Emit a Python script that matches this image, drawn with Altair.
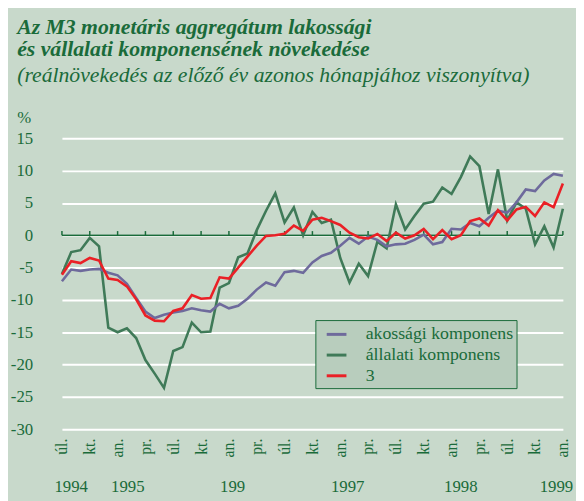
import altair as alt
import pandas as pd

FONT = "Liberation Serif"
GREEN = "#1a6b3a"
BG = "#c8d9cb"

# months: Jul 1994 (0) ... Jan 1999 (54)
months = list(range(55))

lakossagi = [-7.1, -5.3, -5.5, -5.3, -5.2, -5.8, -6.2, -7.5, -9.7, -11.8,
             -12.8, -12.3, -11.95, -11.7, -11.3, -11.6, -11.8, -10.6, -11.3, -10.9,
             -9.8, -8.4, -7.3, -7.8, -5.7, -5.5, -5.8, -4.2, -3.2, -2.7,
             -1.6, -0.4, -1.3, -0.2, -0.7, -1.7, -1.4, -1.3, -0.7, 0.1,
             -1.4, -1.05, 1.0, 0.9, 1.9, 1.4, 2.7, 3.8, 3.5, 5.1,
             7.1, 6.85, 8.5, 9.5, 9.2]

vallalati = [-6.0, -2.6, -2.3, -0.4, -1.7, -14.3, -15.0, -14.4, -15.9, -19.3,
             -21.4, -23.6, -17.9, -17.3, -13.5, -15.0, -14.9, -8.1, -7.4, -3.4,
             -2.8, 0.8, 3.8, 6.5, 2.0, 4.3, 0.0, 3.6, 1.9, 2.4,
             -3.5, -7.3, -4.4, -6.3, -1.0, -2.0, 4.8, 0.9, 3.0, 4.9,
             5.2, 7.4, 6.4, 9.0, 12.2, 10.7, 3.3, 10.2, 2.3, 5.1,
             4.1, -1.4, 1.4, -1.9, 4.1]

m3 = [-6.1, -4.0, -4.3, -3.5, -3.9, -6.7, -6.9, -7.9, -9.9, -12.4,
      -13.2, -13.3, -11.7, -11.3, -9.25, -9.8, -9.7, -6.5, -6.7, -5.0,
      -3.3, -1.6, -0.1, 0.0, 0.25, 1.5, 0.7, 2.4, 2.7, 2.2,
      1.6, 0.4, -0.3, -0.5, 0.2, -0.9, 0.4, -0.5, 0.0, 1.0,
      -0.6, 0.8, -0.6, 0.0, 2.2, 2.6, 1.5, 3.9, 2.3, 4.0,
      4.4, 3.0, 5.1, 4.35, 8.0]

series_names = ["akossági komponens", "állalati komponens", "3"]
series_colors = ["#6e6a9c", "#3f7a58", "#ea2026"]

tick_values = list(range(0, 55, 3))
tick_labels = ["úl.", "kt.", "an.", "pr."] * 4 + ["úl.", "kt.", "an."]
y_ticks = list(range(-30, 20, 5))

year_labels = ["1994", "1995", "199", "1997", "1998", "1999"]
year_pos = [1.0, 7.1, 18.4, 30.8, 43.0, 53.3]

title_line1 = "Az M3 monetáris aggregátum lakossági"
title_line2 = "és vállalati komponensének növekedése"
subtitle_line = "(reálnövekedés az előző év azonos hónapjához viszonyítva)"

rows = []
for name, vals in [(series_names[1], vallalati), (series_names[0], lakossagi),
                   (series_names[2], m3)]:
    for m, v in zip(months, vals):
        rows.append({"month": m, "value": v, "series": name})
df = pd.DataFrame(rows)

label_expr = "[" + ",".join("'" + t + "'" for t in tick_labels) + "][round(datum.value/3)]"

x_scale = alt.Scale(domain=[0, 54], nice=False, zero=False)
y_scale = alt.Scale(domain=[-30, 15], nice=False, zero=False)

x_axis = alt.Axis(values=tick_values, labelExpr=label_expr, labelAngle=270,
                  labelPadding=9, domain=False, ticks=False, grid=False,
                  labelOverlap=False, labelFlush=False, labelFont=FONT,
                  labelFontSize=16, labelColor=GREEN, title=None)
y_axis = alt.Axis(values=y_ticks, labelExpr="'' + datum.value",
                  grid=True, gridColor="white", gridWidth=2,
                  gridOpacity=1, domain=False, ticks=False, labelPadding=29.7,
                  labelOverlap=False, labelFlush=False, labelFont=FONT,
                  labelFontSize=17, labelColor=GREEN,
                  title="%", titleAngle=0, titleX=-45.7, titleY=-15.7,
                  titleAlign="left", titleBaseline="alphabetic", titleFont=FONT,
                  titleFontSize=17, titleFontWeight="normal", titleColor=GREEN)

zero_line = alt.Chart(pd.DataFrame({"value": [0]})).mark_rule(
    color=GREEN, strokeWidth=1.6).encode(
    y=alt.Y("value:Q", scale=y_scale, axis=y_axis))

zero_ticks = alt.Chart(pd.DataFrame({"month": tick_values,
                                     "value": [0] * len(tick_values),
                                     "top": [0.65] * len(tick_values)})).mark_rule(
    color=GREEN, strokeWidth=1.5).encode(
    x=alt.X("month:Q", scale=x_scale, axis=x_axis),
    y=alt.Y("value:Q", scale=y_scale, axis=y_axis),
    y2="top:Q")

lines = alt.Chart(df).mark_line(strokeWidth=2.6).encode(
    x=alt.X("month:Q", scale=x_scale, axis=x_axis),
    y=alt.Y("value:Q", scale=y_scale, axis=y_axis),
    color=alt.Color("series:N",
                    scale=alt.Scale(domain=series_names, range=series_colors),
                    legend=alt.Legend(orient="none", legendX=257, legendY=184.3,
                                      title=None, fillColor="#b8cdbd",
                                      strokeColor=GREEN, padding=3,
                                      symbolType="stroke", symbolStrokeWidth=3,
                                      symbolSize=400, symbolOffset=7,
                                      labelFont=FONT, labelFontSize=18,
                                      labelColor=GREEN, labelOffset=18,
                                      rowPadding=0, labelLimit=300)),
    detail="series:N",
)

years = alt.Chart(pd.DataFrame({"month": year_pos, "label": year_labels})).mark_text(
    font=FONT, fontSize=17, color=GREEN, baseline="alphabetic").encode(
    x=alt.X("month:Q", scale=x_scale, axis=x_axis), y=alt.value(359), text="label:N")

def title_text(txt, ypos, bold):
    return alt.Chart(pd.DataFrame({"t": [txt]})).mark_text(
        font=FONT, fontSize=22, fontStyle="italic",
        fontWeight="bold" if bold else "normal", color=GREEN,
        align="left", baseline="alphabetic").encode(
        x=alt.value(-45.4), y=alt.value(ypos), text="t:N")

t1 = title_text(title_line1, -106, True)
t2 = title_text(title_line2, -83.4, True)
t3 = title_text(subtitle_line, -56.7, False)

chart = alt.layer(zero_line, zero_ticks, lines, years, t1, t2, t3).properties(
    width=508, height=295,
    padding={"left": 54.7, "top": 128.7, "right": 13.3, "bottom": 69.3},
    autosize=alt.AutoSizeParams(type="none"),
    background=BG,
).configure_view(strokeWidth=0).configure_axis(
    labelFont=FONT, labelColor=GREEN, titleFont=FONT, titleColor=GREEN,
    labelOverlap=False,
).configure_legend(labelFont=FONT, labelColor=GREEN)

chart.save("out.html", embed_options={"renderer": "svg", "actions": False})
